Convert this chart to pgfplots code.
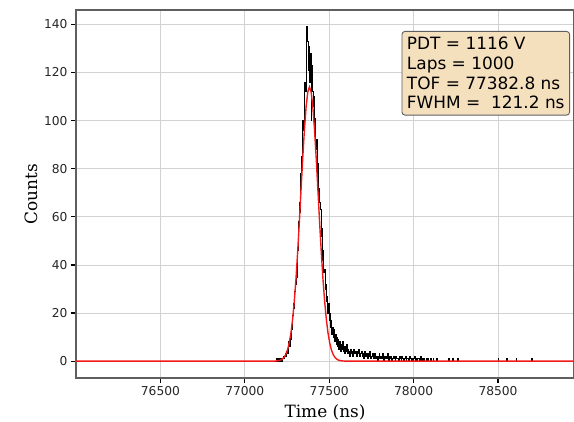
\documentclass[border=0pt]{standalone}
\usepackage{fontspec}
\setmainfont{DejaVu Serif}
\newfontfamily\dvs{DejaVu Sans}
\usepackage{pgfplots}
\usepackage{pgfplotstable}
\pgfplotsset{compat=1.18}
\definecolor{boxfill}{RGB}{245,224,190}
\definecolor{framec}{RGB}{95,95,95}
\definecolor{fitred}{RGB}{240,25,25}

\pgfplotstableread{
t c
76000 0
77180 0
77184 0
77188 1
77192 0
77196 0
77200 1
77204 0
77208 1
77212 0
77216 1
77220 0
77224 1
77228 2
77232 1
77236 2
77240 3
77244 2
77248 4
77252 3
77256 5
77260 8
77264 6
77268 10
77272 9
77276 13
77280 15
77284 19
77288 24
77292 22
77296 29
77300 32
77304 38
77308 35
77312 46
77316 52
77320 58
77324 66
77328 62
77332 78
77336 85
77340 91
77344 100
77348 96
77352 108
77356 116
77360 112
77364 124
77368 139
77372 133
77376 121
77380 131
77384 116
77388 128
77392 100
77396 123
77400 112
77404 106
77408 110
77412 98
77416 101
77420 88
77424 92
77428 78
77432 82
77436 70
77440 72
77444 66
77448 63
77452 52
77456 55
77460 42
77464 46
77468 37
77472 38
77476 30
77480 32
77484 25
77488 27
77492 20
77496 24
77500 17
77504 20
77508 14
77512 17
77516 11
77520 14
77524 10
77528 13
77532 8
77536 11
77540 7
77544 10
77548 6
77552 9
77556 5
77560 8
77564 6
77568 4
77572 7
77576 5
77580 8
77584 4
77588 6
77592 3
77596 6
77600 4
77604 7
77608 3
77612 5
77616 4
77620 2
77625 5
77630 3
77635 4
77640 2
77645 5
77650 3
77655 4
77660 2
77665 4
77670 3
77675 5
77680 2
77685 3
77690 4
77695 2
77700 3
77705 1
77710 4
77715 2
77720 3
77725 1
77730 3
77735 2
77740 4
77745 1
77750 2
77755 3
77760 1
77765 2
77770 3
77775 1
77780 2
77785 0
77790 2
77795 3
77800 1
77805 2
77810 1
77815 3
77820 0
77825 2
77830 1
77835 2
77840 1
77845 3
77850 0
77855 2
77860 1
77865 2
77870 0
77875 1
77880 2
77885 1
77890 0
77895 2
77900 1
77905 1
77910 0
77915 2
77920 1
77925 0
77930 2
77935 1
77940 0
77945 1
77950 2
77955 0
77960 1
77965 1
77970 0
77975 2
77980 1
77985 0
77990 1
77995 0
78000 1
78005 2
78010 0
78015 1
78020 0
78025 1
78030 1
78035 0
78040 2
78045 0
78050 1
78055 0
78060 1
78065 0
78070 0
78075 1
78080 0
78085 1
78090 0
78095 0
78100 1
78105 0
78110 0
78115 1
78120 0
78135 1
78140 0
78205 1
78210 0
78230 1
78235 0
78262 1
78267 0
78500 1
78505 0
78548 1
78553 0
78607 1
78612 0
78696 1
78701 0
78950 0
}\datatable

\pgfplotstableread{
t c
76000 0
77150 0
77183 0.06
77203 0.25
77213 0.49
77223 0.91
77233 1.64
77243 2.83
77253 4.7
77263 7.55
77273 11.6
77283 17.3
77293 24.8
77303 34.1
77313 45.3
77323 57.8
77333 71.2
77343 84.3
77353 96.2
77363 105.7
77373 111.9
77383 114
77393 111.9
77403 105.7
77413 96.2
77423 84.3
77433 71.2
77443 57.8
77453 45.3
77463 34.1
77473 24.8
77483 17.3
77493 11.6
77503 7.55
77513 4.7
77523 2.83
77533 1.64
77543 0.91
77553 0.49
77563 0.25
77583 0.06
77616 0
78950 0
}\fittable

\begin{document}
\begin{tikzpicture}
\begin{axis}[
  scale only axis, width=498bp, height=368bp,
  xmin=76000, xmax=78950, ymin=-7, ymax=146,
  xtick={76500,77000,77500,78000,78500},
  ytick={0,20,...,140},
  scaled x ticks=false,
  xticklabel style={/pgf/number format/1000 sep={}},
  /pgf/number format/assume math mode=true,
  ticklabel style={font=\dvs\fontsize{12.3}{14}\selectfont, text=black!85},
  tick align=outside, major tick length=5bp,
  tick style={black, line width=1.3bp},
  xtick pos=left, ytick pos=left,
  axis line style={framec, line width=1.2bp},
  grid=major, major grid style={gray!35, line width=0.7bp},
  xlabel={Time (ns)}, ylabel={Counts},
  xlabel style={yshift=-2bp},
  label style={font=\fontsize{17}{20}\selectfont},
  clip=true,
]
\addplot[black, line width=0.9bp, const plot, mark=none] table[x=t, y=c] {\datatable};
\addplot[fitred, line width=1.4bp, mark=none] table[x=t, y=c] {\fittable};
\node[anchor=north east, draw=framec, line width=0.9bp, fill=boxfill, rounded corners=3bp,
      align=left, inner xsep=5bp, inner ysep=6bp,
      font=\dvs\fontsize{17}{19.7}\selectfont]
  at (rel axis cs:0.992,0.943)
  {PDT = 1116 V\\Laps = 1000\\TOF = 77382.8 ns\\FWHM =\ \ 121.2 ns};
\end{axis}
\pgfresetboundingbox
\path[use as bounding box] ([shift={(-76bp,-44bp)}]current axis.south west) rectangle ([shift={(0bp,10bp)}]current axis.north east);
\end{tikzpicture}
\end{document}
